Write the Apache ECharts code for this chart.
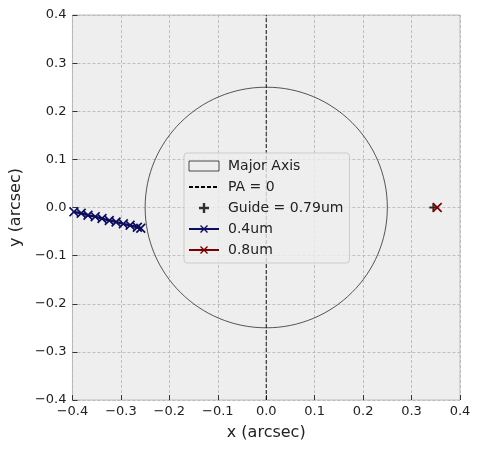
<!DOCTYPE html>
<html>
<head>
<meta charset="utf-8">
<script src="https://cdn.jsdelivr.net/npm/echarts@6/dist/echarts.min.js"></script>
<style>
  html, body { margin: 0; padding: 0; background: #fff; }
  #chart { width: 480px; height: 452px; }
</style>
</head>
<body>
<div id="chart"></div>
<script>
// --- data ---
const axisTicks = [-0.4, -0.3, -0.2, -0.1, 0.0, 0.1, 0.2, 0.3, 0.4];
const majorAxis = [[0, 0, 0.25]];              // centre x, centre y, radius
const paLine = [[0, -0.4], [0, 0.4]];
const guidePoint = [[0.345, 0.0]];
const blueX = [-0.397, -0.382, -0.368, -0.353, -0.339, -0.324, -0.310, -0.295, -0.281, -0.266, -0.259];
const blueY = [-0.009, -0.012, -0.016, -0.019, -0.023, -0.027, -0.030, -0.034, -0.037, -0.041, -0.043];
const redX = [0.353];
const redY = [0.0];

const FONT = 'DejaVu Sans';
const X_PATH = 'path://M0,1.2 L1.2,0 L5,3.8 L8.8,0 L10,1.2 L6.2,5 L10,8.8 L8.8,10 L5,6.2 L1.2,10 L0,8.8 L3.8,5 Z';
const PLUS_PATH = 'path://M3.8,0 L6.2,0 L6.2,3.8 L10,3.8 L10,6.2 L6.2,6.2 L6.2,10 L3.8,10 L3.8,6.2 L0,6.2 L0,3.8 L3.8,3.8 Z';

function fmt(v) {
  const s = Math.abs(v).toFixed(1);
  return v < -1e-9 ? '\u2212' + s : s;
}

const chart = echarts.init(document.getElementById('chart'));

function axisCommon(name) {
  return {
    type: 'value',
    min: axisTicks[0],
    max: axisTicks[axisTicks.length - 1],
    interval: 0.1,
    name: name,
    nameLocation: 'middle',
    nameTextStyle: { fontFamily: FONT, fontSize: 16, color: '#222' },
    axisLine: { show: false, onZero: false },
    axisTick: { show: true, inside: true, length: 5, lineStyle: { color: '#333', width: 1 } },
    axisLabel: { fontFamily: FONT, fontSize: 13, color: '#222', formatter: fmt },
    splitLine: { show: true, lineStyle: { color: '#b2b2b2', type: [3, 2], width: 0.8 } }
  };
}

const xAxis = axisCommon('x (arcsec)');
xAxis.nameGap = 25;
xAxis.axisLabel.margin = 5;
const yAxis = axisCommon('y (arcsec)');
yAxis.nameGap = 44;
yAxis.nameRotate = 90;
yAxis.axisLabel.margin = 6;

const option = {
  animation: false,
  grid: {
    left: 72, right: 20, top: 15, bottom: 52,
    show: true, backgroundColor: '#eeeeee', borderColor: '#bcbcbc', borderWidth: 1
  },
  xAxis: xAxis,
  yAxis: yAxis,
  legend: {
    left: 184, top: 153,
    orient: 'vertical',
    itemWidth: 30, itemHeight: 10, itemGap: 7,
    padding: [6, 6, 6, 4],
    backgroundColor: 'rgba(238,238,238,0.8)',
    borderColor: '#cccccc', borderWidth: 1, borderRadius: 3,
    textStyle: { fontFamily: FONT, fontSize: 14, color: '#222', padding: [0, 0, 0, 4] },
    data: [
      { name: 'Major Axis', icon: 'rect', itemStyle: { color: 'rgba(0,0,0,0)', borderColor: '#222', borderWidth: 0.8 } },
      { name: 'PA = 0', itemStyle: { opacity: 0 } },
      { name: 'Guide = 0.79um', icon: PLUS_PATH },
      { name: '0.4um' },
      { name: '0.8um' }
    ]
  },
  series: [
    {
      name: 'Major Axis',
      type: 'custom',
      clip: true,
      itemStyle: { color: 'rgba(0,0,0,0)', borderColor: '#222', borderWidth: 0.8 },
      encode: { x: 0, y: 1 },
      data: majorAxis,
      renderItem: function (params, api) {
        const c = api.coord([api.value(0), api.value(1)]);
        const s = api.size([api.value(2), api.value(2)]);
        return {
          type: 'ellipse',
          shape: { cx: c[0], cy: c[1], rx: s[0], ry: s[1] },
          style: { fill: 'none', stroke: '#111', lineWidth: 0.7 }
        };
      }
    },
    {
      name: 'PA = 0',
      type: 'line',
      symbol: 'none',
      data: paLine,
      lineStyle: { color: '#000', width: 0.9, type: [4, 2] },
      itemStyle: { color: '#000' },
      z: 3
    },
    {
      name: 'Guide = 0.79um',
      type: 'scatter',
      symbol: PLUS_PATH,
      symbolSize: 8,
      data: guidePoint,
      itemStyle: { color: '#000' },
      z: 4
    },
    {
      name: '0.4um',
      type: 'line',
      symbol: X_PATH,
      symbolSize: 10,
      showAllSymbol: true,
      data: blueX.map((x, i) => [x, blueY[i]]),
      lineStyle: { color: '#0d0d5e', width: 2.4 },
      itemStyle: { color: '#0d0d5e' },
      z: 5
    },
    {
      name: '0.8um',
      type: 'line',
      symbol: X_PATH,
      symbolSize: 10,
      data: redX.map((x, i) => [x, redY[i]]),
      lineStyle: { color: '#7a0000', width: 2.4 },
      itemStyle: { color: '#7a0000' },
      z: 6
    }
  ]
};

chart.setOption(option);
</script>
</body>
</html>
